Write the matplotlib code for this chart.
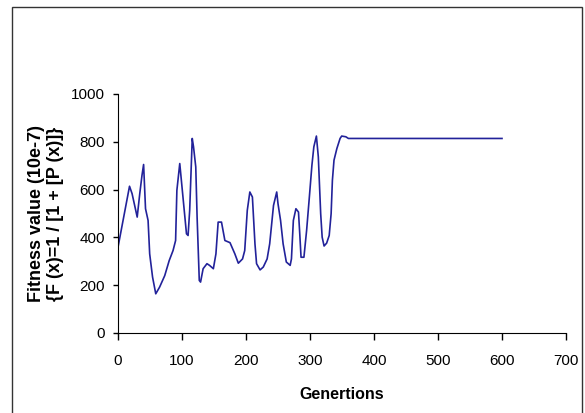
import matplotlib
matplotlib.use("Agg")
import matplotlib.pyplot as plt
from matplotlib import font_manager
from matplotlib.patches import Rectangle

# fitness curve
generations = [0, 18, 22, 30, 34, 37.5, 40, 43, 47, 49.5, 54, 59, 65, 73, 80, 86, 90,
               92, 96.5, 99, 103, 107, 109.5, 112, 116, 118, 121.5, 123.6, 127, 129,
               133, 139, 143, 149, 153, 156.5, 161.7, 167, 175, 182.6, 188, 194.6, 198,
               202, 206, 210, 214, 216.5, 222, 227, 233, 237, 243, 248, 250, 254, 258,
               263, 269, 271, 274, 278, 282, 284, 286, 290.5, 294.7, 299, 303, 306, 310,
               313, 316.7, 319, 322, 326, 330, 333, 335, 337.5, 342, 347, 349.5, 356,
               360, 600]
fitness = [359, 614, 583, 485, 583, 660, 705, 520, 471, 331, 234, 164, 192, 240, 303,
           345, 387, 597, 709, 639, 527, 415, 408, 513, 814, 779, 695, 485, 220, 213,
           269, 290, 283, 269, 331, 464, 464, 387, 378, 331, 292, 310, 345, 513, 590,
           569, 373, 290, 264, 276, 310, 373, 534, 590, 541, 471, 373, 297, 283, 310,
           471, 520, 506, 415, 317, 317, 429, 569, 702, 779, 824, 737, 499, 401, 364,
           376, 408, 499, 639, 723, 772, 814, 824, 821, 814, 814]

x_ticks = [0, 100, 200, 300, 400, 500, 600, 700]
y_ticks = [0, 200, 400, 600, 800, 1000]

names = {f.name for f in font_manager.fontManager.ttflist}
if "Liberation Sans Narrow" in names:
    fam = ["Liberation Sans Narrow", "DejaVu Sans"]
    tick_size = 12.5
else:
    fam = ["Liberation Sans", "DejaVu Sans"]
    tick_size = 11
plt.rcParams["font.family"] = fam

fig = plt.figure(figsize=(5.85, 4.13), dpi=100)
ax = fig.add_axes([118 / 585, 1 - 333 / 413, 448 / 585, 239 / 413])

ax.plot(generations, fitness, color="#22229a", linewidth=1.2)

ax.set_xlim(0, 700)
ax.set_ylim(0, 1000)
ax.set_xticks(x_ticks)
ax.set_yticks(y_ticks)
ax.spines["top"].set_visible(False)
ax.spines["right"].set_visible(False)
ax.tick_params(axis="x", direction="out", length=5, width=1, pad=10, labelsize=tick_size)
ax.tick_params(axis="y", direction="out", length=3.6, width=1, pad=6, labelsize=tick_size)

ax.set_ylabel("Fitness value (10e-7)\n{F (x)=1 / [1 + [P (x)]}", fontsize=13,
              fontweight="bold", family=["Liberation Sans", "DejaVu Sans"],
              linespacing=1.1, labelpad=5)
ax.set_xlabel("Genertions", fontsize=11.5, fontweight="bold",
              family=["Liberation Sans", "DejaVu Sans"], labelpad=14)

# outer frame around the chart
fig.patches.append(Rectangle((12 / 585, -0.1), 570 / 585, 1.1 - 7 / 413,
                             transform=fig.transFigure, fill=False,
                             edgecolor="#333333", linewidth=1))

fig.savefig("out.png", dpi=100)
